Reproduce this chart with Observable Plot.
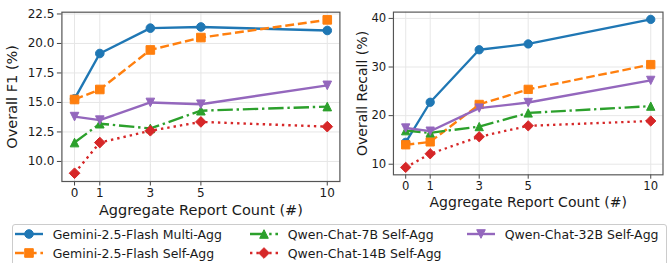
<!DOCTYPE html>
<html>
<head>
<meta charset="utf-8">
<script src="https://cdn.jsdelivr.net/npm/d3@7"></script>
<script src="https://cdn.jsdelivr.net/npm/@observablehq/plot@0.6"></script>
<style>
  html, body { margin: 0; padding: 0; background: #fff; }
  #wrap { position: relative; width: 669px; height: 263px; overflow: hidden; background: #fff; font-family: "DejaVu Sans", sans-serif; color: #1a1a1a; }
  #wrap .panel { position: absolute; top: 0; }
  #wrap g[aria-label="x-axis label"], #wrap g[aria-label="y-axis label"] { font-size: 14.5px; }
  #legend { position: absolute; left: 12px; top: 224px; width: 655px; height: 60px; border: 1px solid #cccccc; border-radius: 3px; box-sizing: border-box; }
  .lg-item { position: absolute; height: 20px; display: flex; align-items: center; font-size: 12.5px; white-space: nowrap; }
  .lg-item svg { margin-right: 9.7px; }
</style>
</head>
<body>
<div id="wrap">
  <div id="left" class="panel" style="left:0px"></div>
  <div id="right" class="panel" style="left:330px"></div>
  <div id="legend"></div>
</div>
<script>
// ---------------- data ----------------
const counts = [0, 1, 3, 5, 10];
const seriesNames = [
  "Gemini-2.5-Flash Multi-Agg",
  "Gemini-2.5-Flash Self-Agg",
  "Qwen-Chat-7B Self-Agg",
  "Qwen-Chat-14B Self-Agg",
  "Qwen-Chat-32B Self-Agg"
];
const f1GeminiMulti = [15.3, 19.15, 21.3, 21.4, 21.1];
const f1GeminiSelf  = [15.25, 16.1, 19.45, 20.5, 22.0];
const f1Qwen7B      = [11.6, 13.2, 12.8, 14.3, 14.65];
const f1Qwen14B     = [9.0, 11.6, 12.6, 13.35, 12.95];
const f1Qwen32B     = [13.8, 13.5, 15.0, 14.85, 16.45];

const recallGeminiMulti = [14.5, 22.75, 33.55, 34.75, 39.8];
const recallGeminiSelf  = [14.0, 14.6, 22.3, 25.4, 30.5];
const recallQwen7B      = [16.9, 16.45, 17.75, 20.55, 21.95];
const recallQwen14B     = [9.35, 12.15, 15.65, 17.9, 18.9];
const recallQwen32B     = [17.45, 16.8, 21.55, 22.7, 27.25];

const f1Ticks = [10, 12.5, 15, 17.5, 20, 22.5];
const recallTicks = [10, 20, 30, 40];

// ---------------- styles ----------------
const colors = ["#1f77b4", "#ff7f0e", "#2ca02c", "#d62728", "#9467bd"];
const dashes = [null, "8.9,3.8", "15.4,3.8,2.4,3.8", "2.4,4", null];
const mk = (fn) => ({ draw(ctx, size) { const m = 2 * Math.sqrt(size / Math.PI); fn(ctx, m); } });
const symCircle = mk((c, m) => { c.moveTo(m / 2, 0); c.arc(0, 0, m / 2, 0, 2 * Math.PI); });
const symSquare = mk((c, m) => { c.rect(-m / 2, -m / 2, m, m); });
const symTriUp = mk((c, m) => { c.moveTo(0, -m / 2); c.lineTo(m / 2, m / 2); c.lineTo(-m / 2, m / 2); c.closePath(); });
const symTriDown = mk((c, m) => { c.moveTo(0, m / 2); c.lineTo(m / 2, -m / 2); c.lineTo(-m / 2, -m / 2); c.closePath(); });
const symDiamond = mk((c, m) => { const h = m * 0.62; c.moveTo(0, -h); c.lineTo(h, 0); c.lineTo(0, h); c.lineTo(-h, 0); c.closePath(); });
const symbols = [symCircle, symSquare, symTriUp, symDiamond, symTriDown];
const markerR = [4.3, 4.3, 4.3, 4.3, 4.3];
const lineW = 2.4;

function toRows(valueLists) {
  return valueLists.map((vals, s) => counts.map((c, i) => ({ series: seriesNames[s], count: c, value: vals[i] })));
}

function panel({ rows, yDomain, yTicks, yFormat, yLabel, width, height, mL, mR, mT, mB, yLabelOffset }) {
  const marks = [
    Plot.gridX(counts, { stroke: "#e6e6e6", strokeOpacity: 1, strokeWidth: 1 }),
    Plot.gridY(yTicks, { stroke: "#e6e6e6", strokeOpacity: 1, strokeWidth: 1 })
  ];
  rows.forEach((r, s) => {
    marks.push(Plot.line(r, {
      x: "count", y: "value", stroke: colors[s], strokeWidth: lineW,
      strokeDasharray: dashes[s] || undefined, strokeLinejoin: "round", strokeLinecap: "butt"
    }));
    marks.push(Plot.dot(r, {
      x: "count", y: "value", fill: colors[s], stroke: colors[s], strokeWidth: 1,
      r: markerR[s], symbol: symbols[s]
    }));
  });
  marks.push(Plot.axisX({
    ticks: counts, tickFormat: d3.format("d"), tickSize: 4.5, tickPadding: 2.3,
    stroke: "#444", fill: "#1a1a1a",
    label: "Aggregate Report Count (#)", labelAnchor: "center", labelArrow: "none", labelOffset: 33
  }));
  marks.push(Plot.axisY({
    ticks: yTicks, tickFormat: d3.format(yFormat), tickSize: 4.5, tickPadding: 3,
    stroke: "#444", fill: "#1a1a1a",
    label: yLabel, labelAnchor: "center", labelArrow: "none", labelOffset: yLabelOffset
  }));
  marks.push(Plot.frame({ stroke: "#555", strokeWidth: 1.2 }));
  return Plot.plot({
    width, height,
    marginLeft: mL, marginRight: mR, marginTop: mT, marginBottom: mB,
    style: { fontFamily: "DejaVu Sans, sans-serif", fontSize: "12px", background: "transparent", color: "#1a1a1a", overflow: "visible" },
    x: { domain: [-0.5, 10.5], axis: null },
    y: { domain: yDomain, axis: null },
    marks
  });
}

const f1Rows = toRows([f1GeminiMulti, f1GeminiSelf, f1Qwen7B, f1Qwen14B, f1Qwen32B]);
const recallRows = toRows([recallGeminiMulti, recallGeminiSelf, recallQwen7B, recallQwen14B, recallQwen32B]);

document.getElementById("left").append(panel({
  rows: f1Rows, yDomain: [8.3, 22.65], yTicks: f1Ticks, yFormat: ".1f", yLabel: "Overall F1 (%)",
  width: 345, height: 225, mL: 61.4, mR: 5.6, mT: 11.7, mB: 44, yLabelOffset: 55
}));
document.getElementById("right").append(panel({
  rows: recallRows, yDomain: [7.82, 41.3], yTicks: recallTicks, yFormat: "d", yLabel: "Overall Recall (%)",
  width: 350, height: 225, mL: 65, mR: 6.7, mT: 12, mB: 45, yLabelOffset: 37.5
}));

// ---------------- legend ----------------
const legend = d3.select("#legend");
const colLeft = [2, 237, 454];   // relative to legend box
const rowTop = [-1, 18];
const order = [0, 1, 2, 3, 4];
order.forEach((s, k) => {
  const col = Math.floor(k / 2), row = k % 2;
  const item = legend.append("div").attr("class", "lg-item")
    .style("left", colLeft[col] + "px").style("top", rowTop[row] + "px");
  const svg = item.append("svg").attr("width", 28).attr("height", 14);
  svg.append("line").attr("x1", 0).attr("x2", 28).attr("y1", 7).attr("y2", 7)
    .attr("stroke", colors[s]).attr("stroke-width", lineW)
    .attr("stroke-dasharray", dashes[s]).attr("stroke-linecap", "butt");
  svg.append("path").attr("transform", "translate(14,7)")
    .attr("d", d3.symbol(symbols[s], Math.PI * markerR[s] * markerR[s])())
    .attr("fill", colors[s]).attr("stroke", colors[s]).attr("stroke-width", 1);
  item.append("span").text(seriesNames[s]);
});
</script>
</body>
</html>
